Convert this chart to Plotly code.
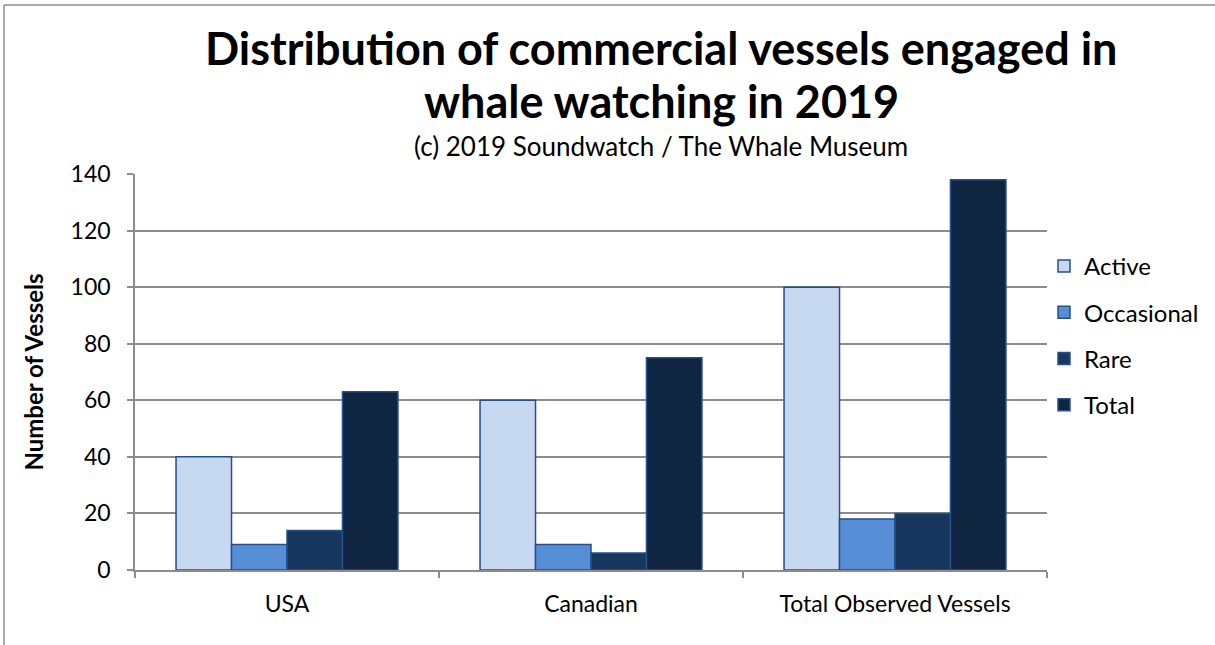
import plotly.graph_objects as go

categories = ["USA", "Canadian", "Total Observed Vessels"]
active = [40, 60, 100]
occasional = [9, 9, 18]
rare = [14, 6, 20]
total = [63, 75, 138]
y_ticks = [0, 20, 40, 60, 80, 100, 120, 140]

series = [
    ("Active", active, "#C6D9F1"),
    ("Occasional", occasional, "#558ED5"),
    ("Rare", rare, "#17375E"),
    ("Total", total, "#10253F"),
]

W, H = 1215, 645
ML, MR, MT, MB = 135, 168, 174, 75
pw, ph = W - ML - MR, H - MT - MB


def px(x):
    # picture pixel -> paper x
    return (x - ML) / pw


def py(y):
    # picture pixel -> paper y
    return (H - MB - y) / ph


fig = go.Figure()
for name, vals, col in series:
    fig.add_trace(go.Bar(
        name=name, x=categories, y=vals, legendgroup=name,
        marker=dict(color=col, line=dict(color="#25508A", width=1.5)),
    ))

# outer chart border: only left and top edges are visible in the crop
fig.add_shape(type="line", xref="paper", yref="paper", x0=px(4), x1=px(4), y0=py(H), y1=py(5),
              line=dict(color="#8C8C8C", width=1.5))
fig.add_shape(type="line", xref="paper", yref="paper", x0=px(4), x1=px(W), y0=py(5), y1=py(5),
              line=dict(color="#8C8C8C", width=1.5))

title_lines = ["Distribution of commercial vessels engaged in", "whale watching in 2019"]
annots = []
for txt, yy in zip(title_lines, [48, 101]):
    annots.append(dict(text="<b>%s</b>" % txt, xref="paper", yref="paper", x=px(661), y=py(yy),
                       xanchor="center", yanchor="middle", showarrow=False,
                       font=dict(size=45, family="Lato, sans-serif")))
annots.append(dict(text="(c) 2019 Soundwatch / The Whale Museum", xref="paper", yref="paper",
                   x=px(661), y=py(146), xanchor="center", yanchor="middle",
                   showarrow=False, font=dict(size=26)))

fig.update_layout(
    width=W, height=H,
    margin=dict(l=ML, r=MR, t=MT, b=MB, autoexpand=False),
    paper_bgcolor="white", plot_bgcolor="white",
    font=dict(family="Lato, Open Sans, sans-serif", color="#000000", size=23),
    barmode="group", bargap=0.27, bargroupgap=0,
    annotations=annots,
    legend=dict(x=px(1044), xanchor="left", y=py(244), yanchor="top",
                font=dict(size=24), tracegroupgap=12, traceorder="grouped",
                itemwidth=30, bgcolor="rgba(0,0,0,0)"),
    xaxis=dict(showline=True, linecolor="#8C8C8C", linewidth=1.5, ticks="outside",
               tickson="boundaries", ticklen=6, tickcolor="#8C8C8C", tickwidth=1.5,
               showgrid=False, tickfont=dict(size=23), ticklabelstandoff=13),
    yaxis=dict(range=[0, 140], tickvals=y_ticks, showline=True, linecolor="#8C8C8C", linewidth=1.5,
               ticks="outside", ticklen=6, tickcolor="#8C8C8C", tickwidth=1.5,
               gridcolor="#8C8C8C", gridwidth=1.5, zeroline=False, tickfont=dict(size=23),
               ticklabelstandoff=12,
               title=dict(text="<b>Number of Vessels</b>", font=dict(size=24), standoff=20)),
)

fig.write_html("out.html", config={"displayModeBar": False},
               post_script="document.body.style.margin='0';")
